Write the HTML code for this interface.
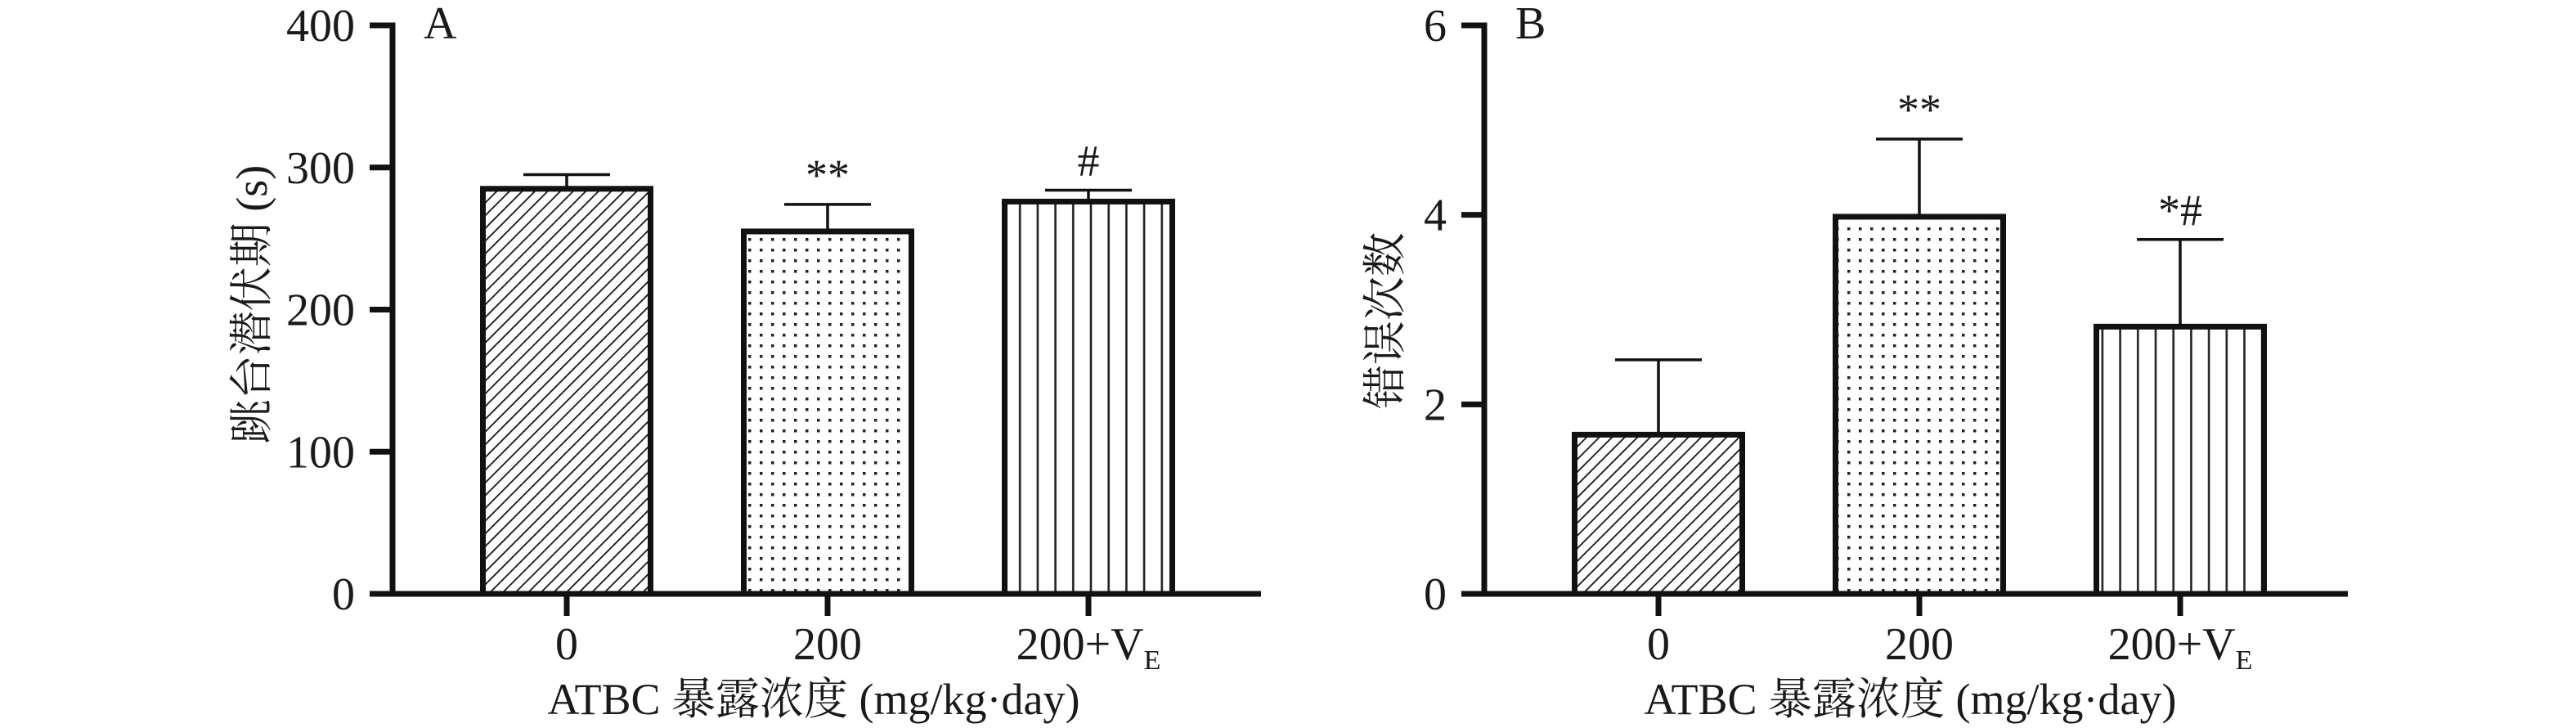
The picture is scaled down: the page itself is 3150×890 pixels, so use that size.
<!DOCTYPE html>
<html><head><meta charset="utf-8"><style>
html,body{margin:0;padding:0;background:#fff;}
svg{display:block;}
text{font-family:"Liberation Serif","Noto Serif CJK SC",serif;fill:#1a1a1a;}
</style></head><body>
<svg id="fig" width="3150" height="890" viewBox="0 0 3150 890" xmlns="http://www.w3.org/2000/svg">
<defs>
<pattern id="hatch" patternUnits="userSpaceOnUse" width="11" height="11" patternTransform="rotate(45)">
<rect width="11" height="11" fill="#fff"/><line x1="0" y1="0" x2="0" y2="11" stroke="#111" stroke-width="3.5"/></pattern>
<pattern id="dots" patternUnits="userSpaceOnUse" width="14" height="13">
<rect width="14" height="13" fill="#fff"/><rect x="5" y="5" width="3.5" height="3.5" fill="#222"/></pattern>
<pattern id="vlines" patternUnits="userSpaceOnUse" width="21.7" height="10">
<rect width="21.7" height="10" fill="#fff"/><rect x="9" y="0" width="2.6" height="10" fill="#222"/></pattern>
</defs>
<g id="chartA"></g>
<g id="chartB"></g>
</svg>
<script>
const categories = ["0", "200", "200+V"];
const valuesA = [285, 255, 276];
const errorsA = [10, 19, 8];
const marksA = ["", "**", "#"];
const ticksA = [0, 100, 200, 300, 400];
const valuesB = [1.68, 3.98, 2.82];
const errorsB = [0.79, 0.82, 0.92];
const marksB = ["", "**", "*#"];
const ticksB = [0, 2, 4, 6];

const NS = "http://www.w3.org/2000/svg";
const fills = ["url(#hatch)", "url(#dots)", "url(#vlines)"];
function mk(parent, tag, attrs, txt) {
  const e = document.createElementNS(NS, tag);
  for (const k in attrs) e.setAttribute(k, attrs[k]);
  if (txt !== undefined) e.textContent = txt;
  parent.appendChild(e);
  return e;
}
function draw(g, cfg) {
  const y0 = 726, yTop = 31;
  const yScale = v => y0 - (v - cfg.min) / (cfg.max - cfg.min) * (y0 - yTop);
  const xScale = i => cfg.axisX + 213 + i * 319;
  cfg.values.forEach((v, i) => {
    const cx = xScale(i), w = 205;
    const ey = yScale(v + cfg.errors[i]);
    const el = mk(g, "line", {x1: cx, x2: cx, y1: yScale(v), y2: ey, stroke: "#111", "stroke-width": 3.5});
    
    
    const cap = mk(g, "line", {x1: cx - 53, x2: cx + 53, y1: ey, y2: ey, stroke: "#111", "stroke-width": 3.5});
    
    
    const r = mk(g, "rect", {x: cx - w / 2, y: yScale(v), width: w, height: y0 - yScale(v), fill: fills[i], stroke: "#111", "stroke-width": 7});
    
    
    if (cfg.marks[i]) {
      const m = mk(g, "text", {x: cx, y: ey - 18, "text-anchor": "middle", "font-size": 54}, cfg.marks[i]);
      
      
    }
    const tk = mk(g, "line", {x1: cx, x2: cx, y1: y0, y2: 753, stroke: "#111", "stroke-width": 7});
    
    
    const lb = mk(g, "text", {x: cx, y: 806, "text-anchor": "middle", "font-size": 56}, categories[i]);
    
    
    if (i === 2) {
      const sub = mk(lb, "tspan", {"font-size": 34, dy: 12}, "E");
      
      
    }
  });
  const ya = mk(g, "line", {x1: cfg.axisX, x2: cfg.axisX, y1: yTop - 3.5, y2: y0 + 3.5, stroke: "#111", "stroke-width": 7});
  
  
  const xa = mk(g, "line", {x1: cfg.axisX - 28, x2: cfg.axisEnd, y1: y0, y2: y0, stroke: "#111", "stroke-width": 7});
  
  
  cfg.ticks.forEach(t => {
    const ty = yScale(t);
    const tl = mk(g, "line", {x1: cfg.axisX - 28, x2: cfg.axisX, y1: ty, y2: ty, stroke: "#111", "stroke-width": 7});
    
    
    const tt = mk(g, "text", {x: cfg.axisX - 46, y: ty + 19, "text-anchor": "end", "font-size": 56}, String(t));
    
    
  });
  const pl = mk(g, "text", {x: cfg.axisX + 38, y: 47, "font-size": 56}, cfg.panel);
  
  
  const yt = mk(g, "text", {x: 0, y: 0, "text-anchor": "middle", "font-size": 54, transform: "translate(" + cfg.ytX + "," + cfg.ytY + ") rotate(-90)"}, cfg.yTitle);
  
  
  const xt = mk(g, "text", {x: cfg.xtX, y: 873, "text-anchor": "middle", "font-size": 54}, "ATBC 暴露浓度 (mg/kg·day)");
  
  
}
draw(document.getElementById("chartA"), {values: valuesA, errors: errorsA, marks: marksA, ticks: ticksA, min: 0, max: 400, axisX: 480, axisEnd: 1542, panel: "A", yTitle: "跳台潜伏期 (s)", ytX: 326, ytY: 372, xtX: 995});
draw(document.getElementById("chartB"), {values: valuesB, errors: errorsB, marks: marksB, ticks: ticksB, min: 0, max: 6, axisX: 1815, axisEnd: 2871, panel: "B", yTitle: "错误次数", ytX: 1712, ytY: 392, xtX: 2336});
</script>
</body></html>
